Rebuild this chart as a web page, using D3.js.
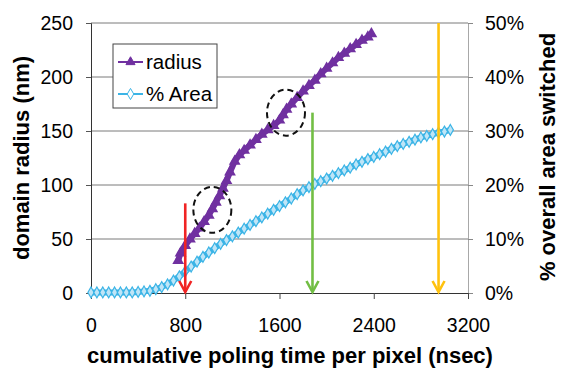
<!DOCTYPE html>
<html>
<head>
<meta charset="utf-8">
<script src="https://cdn.jsdelivr.net/npm/d3@7"></script>
<style>
  body { margin: 0; background: #fff; }
  text { font-family: Arial, "Liberation Sans", sans-serif; }
</style>
</head>
<body>
<div id="chart"></div>
<script>
// radius series (nm) vs cumulative poling time (nsec)
const radiusX = [740, 760, 800, 840, 880, 920, 960, 1000, 1030, 1060, 1090, 1120, 1150, 1180, 1220, 1260, 1300, 1350, 1400, 1450,
                 1500, 1550, 1600, 1630, 1660, 1700, 1750, 1800, 1850, 1900, 1950, 2000, 2050, 2100, 2150, 2200, 2250, 2300, 2350, 2380];
const radiusY = [30, 37, 44, 50, 55, 60, 66, 72, 78, 84, 90, 97, 104, 112, 122, 128, 132, 137, 142, 147,
                 151, 155, 160, 165, 170, 175, 181, 187, 192, 197, 203, 208, 213, 218, 222, 226, 230, 234, 237, 240];

// % area switched vs cumulative poling time (nsec)
const areaX = [0, 50, 100, 150, 200, 250, 300, 350, 400, 450, 500, 550, 600, 650, 700, 750, 800, 850, 900, 950,
               1000, 1050, 1100, 1150, 1200, 1250, 1300, 1350, 1400, 1450, 1500, 1550, 1600, 1650, 1700, 1750, 1800, 1850, 1900, 1950,
               2000, 2050, 2100, 2150, 2200, 2250, 2300, 2350, 2400, 2450, 2500, 2550, 2600, 2650, 2700, 2750, 2800, 2850, 2900, 2950,
               3000, 3050];
const areaY = [0.1, 0.1, 0.1, 0.1, 0.1, 0.1, 0.1, 0.1, 0.2, 0.3, 0.4, 0.7, 1.1, 1.6, 2.3, 3.1, 4.0, 4.9, 5.8, 6.7,
               7.5, 8.3, 9.1, 9.8, 10.5, 11.2, 11.9, 12.6, 13.3, 14.0, 14.7, 15.4, 16.1, 16.8, 17.5, 18.3, 19.0, 19.6, 20.2, 20.7,
               21.2, 21.7, 22.2, 22.7, 23.2, 23.8, 24.3, 24.8, 25.2, 25.7, 26.2, 26.7, 27.2, 27.6, 28.0, 28.4, 28.8, 29.1, 29.4, 29.7,
               29.9, 30.2];

const xTicks = [0, 800, 1600, 2400, 3200];
const leftTicks = [0, 50, 100, 150, 200, 250];
const rightTicks = [0, 10, 20, 30, 40, 50];

// annotation arrows: x position (nsec) and top (nm, left axis)
const arrowX = [800, 1880, 2950];
const arrowTop = [83, 167, 250];
const arrowColors = ["#f02424", "#72be44", "#ffc20e"];

// dashed circles around kinks (nsec, nm)
const circleX = [1030, 1655];
const circleY = [77, 167];

const W = 561, H = 368;
const m = { left: 91, right: 93, top: 23, bottom: 75 };

const svg = d3.select("#chart").append("svg")
    .attr("width", W).attr("height", H);

const x = d3.scaleLinear().domain([0, 3200]).range([m.left, W - m.right]);
const yL = d3.scaleLinear().domain([0, 250]).range([H - m.bottom, m.top]);
const yR = d3.scaleLinear().domain([0, 50]).range([H - m.bottom, m.top]);

const purple = "#7030a0";
const cyan = "#3bb4e6";
const tickFont = "19.5px";

// gridlines
svg.append("g").selectAll("line").data(leftTicks.slice(1)).join("line")
    .attr("x1", m.left).attr("x2", W - m.right)
    .attr("y1", d => yL(d)).attr("y2", d => yL(d))
    .attr("stroke", "#7a7a7a").attr("stroke-width", 1);

// left axis
const gl = svg.append("g").attr("transform", `translate(${m.left},0)`)
    .call(d3.axisLeft(yL).tickValues(leftTicks).tickSize(5).tickPadding(13));
gl.select(".domain").attr("stroke", "#333");
gl.selectAll(".tick line").attr("stroke", "#555");
gl.selectAll("text").attr("font-size", tickFont).attr("fill", "#000");

// right axis
const gr = svg.append("g").attr("transform", `translate(${W - m.right},0)`)
    .call(d3.axisRight(yR).tickValues(rightTicks).tickSize(5).tickPadding(12).tickFormat(d => d + "%"));
gr.select(".domain").attr("stroke", "#a8a8a8");
gr.selectAll(".tick line").attr("stroke", "#888");
gr.selectAll("text").attr("font-size", tickFont).attr("fill", "#000");

// bottom axis
const gb = svg.append("g").attr("transform", `translate(0,${H - m.bottom})`)
    .call(d3.axisBottom(x).tickValues(xTicks).tickSize(6).tickPadding(19).tickFormat(d3.format("d")));
gb.select(".domain").attr("stroke", "#333");
gb.selectAll(".tick line").attr("stroke", "#444");
gb.selectAll("text").attr("font-size", tickFont).attr("fill", "#000");

// % area series
const areaPts = areaX.map((v, i) => [v, areaY[i]]);
svg.append("path").datum(areaPts)
    .attr("fill", "none").attr("stroke", cyan).attr("stroke-width", 6)
    .attr("d", d3.line().x(d => x(d[0])).y(d => yR(d[1])));
svg.append("g").selectAll("path").data(areaPts).join("path")
    .attr("transform", d => `translate(${x(d[0])},${yR(d[1])})`)
    .attr("d", d3.symbol(d3.symbolDiamond, 34))
    .attr("fill", "#bfe5f7").attr("stroke", cyan).attr("stroke-width", 1.2);

// radius series
const radPts = radiusX.map((v, i) => [v, radiusY[i]]);
svg.append("path").datum(radPts)
    .attr("fill", "none").attr("stroke", purple).attr("stroke-width", 6)
    .attr("d", d3.line().x(d => x(d[0])).y(d => yL(d[1])));
svg.append("g").selectAll("path").data(radPts).join("path")
    .attr("transform", d => `translate(${x(d[0])},${yL(d[1])})`)
    .attr("d", d3.symbol(d3.symbolTriangle, 60))
    .attr("fill", purple);

// dashed circles
svg.append("g").selectAll("ellipse").data(circleX).join("ellipse")
    .attr("cx", d => x(d)).attr("cy", (d, i) => yL(circleY[i]))
    .attr("rx", 19).attr("ry", 23)
    .attr("fill", "none").attr("stroke", "#111").attr("stroke-width", 2)
    .attr("stroke-dasharray", "6,4");

// arrows
const ag = svg.append("g").selectAll("g").data(arrowX).join("g")
    .attr("stroke", (d, i) => arrowColors[i]).attr("stroke-width", 2.6).attr("fill", "none");
ag.append("line")
    .attr("x1", d => x(d)).attr("x2", d => x(d))
    .attr("y1", (d, i) => yL(arrowTop[i])).attr("y2", yL(0) - 1);
ag.append("path")
    .attr("d", d => `M${x(d) - 6},${yL(0) - 12}L${x(d)},${yL(0) - 1}L${x(d) + 6},${yL(0) - 12}`);

// legend
const lg = svg.append("g").attr("transform", "translate(113,44)");
lg.append("rect").attr("width", 104).attr("height", 64)
    .attr("fill", "#fff").attr("stroke", "#444").attr("stroke-width", 1);
const legendItems = [
  { label: "radius", color: purple, sym: d3.symbolTriangle, fill: purple },
  { label: "% Area", color: cyan, sym: d3.symbolDiamond, fill: "#fff" }
];
legendItems.forEach((it, i) => {
  const cy = 18 + i * 32;
  lg.append("line").attr("x1", 5).attr("x2", 30).attr("y1", cy).attr("y2", cy)
    .attr("stroke", it.color).attr("stroke-width", 2);
  lg.append("path").attr("transform", `translate(17.5,${cy})`)
    .attr("d", d3.symbol(it.sym, 36))
    .attr("fill", it.fill).attr("stroke", it.color).attr("stroke-width", 1);
  lg.append("text").attr("x", 33).attr("y", cy + 7)
    .attr("font-size", "20.5px").attr("fill", "#000").text(it.label);
});

// axis titles
svg.append("text").attr("x", 290).attr("y", 363)
    .attr("text-anchor", "middle").attr("font-size", "22px").attr("font-weight", "bold")
    .attr("fill", "#000").text("cumulative poling time per pixel (nsec)");
svg.append("text").attr("transform", "translate(29,158) rotate(-90)")
    .attr("text-anchor", "middle").attr("font-size", "22px").attr("font-weight", "bold")
    .attr("fill", "#000").text("domain radius (nm)");
svg.append("text").attr("transform", "translate(555,157) rotate(-90)")
    .attr("text-anchor", "middle").attr("font-size", "22px").attr("font-weight", "bold")
    .attr("fill", "#000").text("% overall area switched");
</script>
</body>
</html>
